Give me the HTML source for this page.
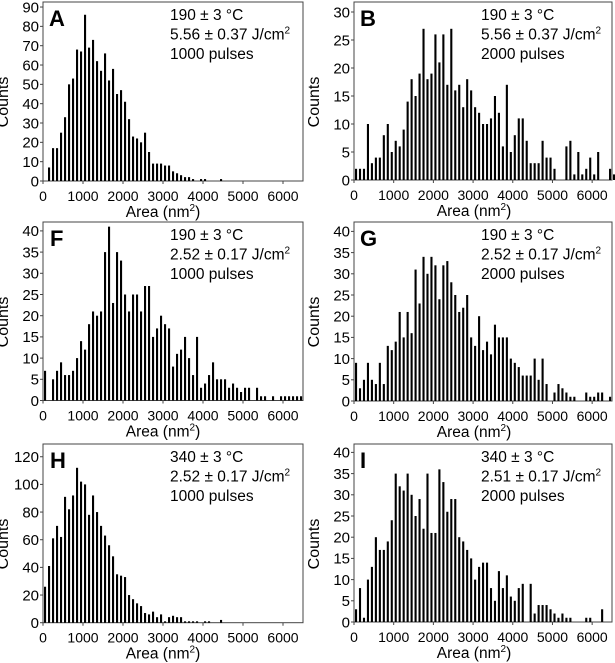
<!DOCTYPE html>
<html><head><meta charset="utf-8"><style>
html,body{margin:0;padding:0;background:#fff;}
svg{display:block;font-family:"Liberation Sans",Arial,sans-serif;}
</style></head><body>
<svg id="s" width="615" height="663" xmlns="http://www.w3.org/2000/svg"></svg>
<script>
var P=[
{L:43,R:303,T:2,B:181,ppc:1.933,ys:10,yn:9,let:"A",lx:49,ax:170,t:["190 ± 3 °C","5.56 ± 0.37 J/cm²","1000 pulses"],
d:[0,7,17,17,25,33,50,53,68,67,86,69,73,62,57,66,52,58,45,47,41,32,23,22,20,25,15,9,9,9,8,8,5,4,3,2,2,1,0,1,1,0,0,0,1]},
{L:354,R:612,T:2,B:180,ppc:5.6,ys:5,yn:6,let:"B",lx:360,ax:481,t:["190 ± 3 °C","5.56 ± 0.37 J/cm²","2000 pulses"],
d:[2,2,2,10,3,4,4,8,10,5,7,6,9,14,18,15,19,27,18,19,26,21,26,17,27,16,17,13,18,16,13,12,10,10,11,15,12,6,17,5,8,11,11,7,3,3,3,7,4,4,2,0,0,6,7,1,5,1,2,4,1,5,0,0,2,1]},
{L:43,R:303,T:222,B:400.5,ppc:4.24,ys:5,yn:8,let:"F",lx:50,ax:170,t:["190 ± 3 °C","2.52 ± 0.17 J/cm²","1000 pulses"],
d:[7,0,5,7,9,6,6,7,10,14,12,18,21,20,21,35,41,23,35,33,25,21,25,25,21,27,27,15,17,20,18,17,8,11,12,15,10,6,15,3,4,6,9,5,5,5,3,4,3,2,3,3,0,3,1,1,0,1,0,1,1,1,1,1,1]},
{L:354,R:612,T:222,B:401,ppc:4.24,ys:5,yn:8,let:"G",lx:360,ax:481,t:["190 ± 3 °C","2.52 ± 0.17 J/cm²","2000 pulses"],
d:[9,3,5,9,5,4,9,4,13,12,14,21,15,21,16,31,23,34,30,34,32,24,32,33,28,25,21,22,25,15,13,20,12,14,11,18,15,15,15,10,9,8,6,6,6,10,5,10,4,0,2,4,3,2,1,1,0,0,2,1,1,2,2,0,1,0,1]},
{L:43,R:303,T:444,B:622.7,ppc:1.383,ys:20,yn:6,let:"H",lx:50,ax:170,t:["340 ± 3 °C","2.52 ± 0.17 J/cm²","1000 pulses"],
d:[26,41,61,70,62,91,82,92,112,102,100,78,92,80,70,63,56,48,35,34,33,20,17,14,12,7,6,8,4,6,1,4,5,4,4,1,1,1,1,0,1,1,0,0,2]},
{L:354,R:612,T:444,B:622,ppc:4.24,ys:5,yn:8,let:"I",lx:360,ax:481,t:["340 ± 3 °C","2.51 ± 0.17 J/cm²","2000 pulses"],
d:[3,8,1,10,13,20,17,17,19,24,35,32,31,35,30,25,29,22,35,21,21,36,33,26,29,29,20,19,17,15,10,13,14,14,8,5,12,8,11,6,5,8,9,0,9,2,4,4,4,3,2,1,2,1,1,0,0,0,1,1,0,0,3]}
];
var h='';
P.forEach(function(p){
 var sx=(p.R-p.L)/6500;
 h+='<rect x="'+p.L+'" y="'+p.T+'" width="'+(p.R-p.L)+'" height="'+(p.B-p.T)+'" fill="none" stroke="#444" stroke-width="1"/>';
 p.d.forEach(function(v,k){ if(v>0){var x=p.L+(k*100+25)*sx; h+='<rect x="'+x.toFixed(2)+'" y="'+(p.B-v*p.ppc).toFixed(2)+'" width="2.1" height="'+(v*p.ppc).toFixed(2)+'" fill="#000"/>';}});
 for(var i=0;i<=p.yn;i++){var y=p.B-i*p.ys*p.ppc; h+='<line x1="'+(p.L-3)+'" x2="'+p.L+'" y1="'+y+'" y2="'+y+'" stroke="#444"/>';
  h+='<text x="'+(p.L-4)+'" y="'+(y+5.3)+'" font-size="15" text-anchor="end">'+(i*p.ys)+'</text>';}
 for(var j=0;j<=6;j++){var x=p.L+j*1000*sx; h+='<line x1="'+x+'" x2="'+x+'" y1="'+p.B+'" y2="'+(p.B+3)+'" stroke="#444"/>';
  h+='<text x="'+x+'" y="'+(p.B+20)+'" font-size="14" text-anchor="middle">'+(j*1000)+'</text>';}
 h+='<text x="'+(p.L+120)+'" y="'+(p.B+36)+'" font-size="15.5" text-anchor="middle">Area (nm<tspan font-size="10" dy="-6">2</tspan><tspan dy="6">)</tspan></text>';
 var cx=p.L-35, cy=p.T+100;
 h+='<text x="'+cx+'" y="'+cy+'" font-size="16" text-anchor="middle" transform="rotate(-90 '+cx+' '+cy+')">Counts</text>';
 h+='<text x="'+p.lx+'" y="'+(p.T+24)+'" font-size="22" font-weight="bold">'+p.let+'</text>';
 p.t.forEach(function(s,k){
  var s2=s.replace('cm²','cm<tspan font-size="10" dy="-6">2</tspan>');
  h+='<text x="'+p.ax+'" y="'+(p.T+18+k*19.5)+'" font-size="15.5">'+s2+'</text>';});
});
document.getElementById('s').innerHTML=h;
</script>
</body></html>
